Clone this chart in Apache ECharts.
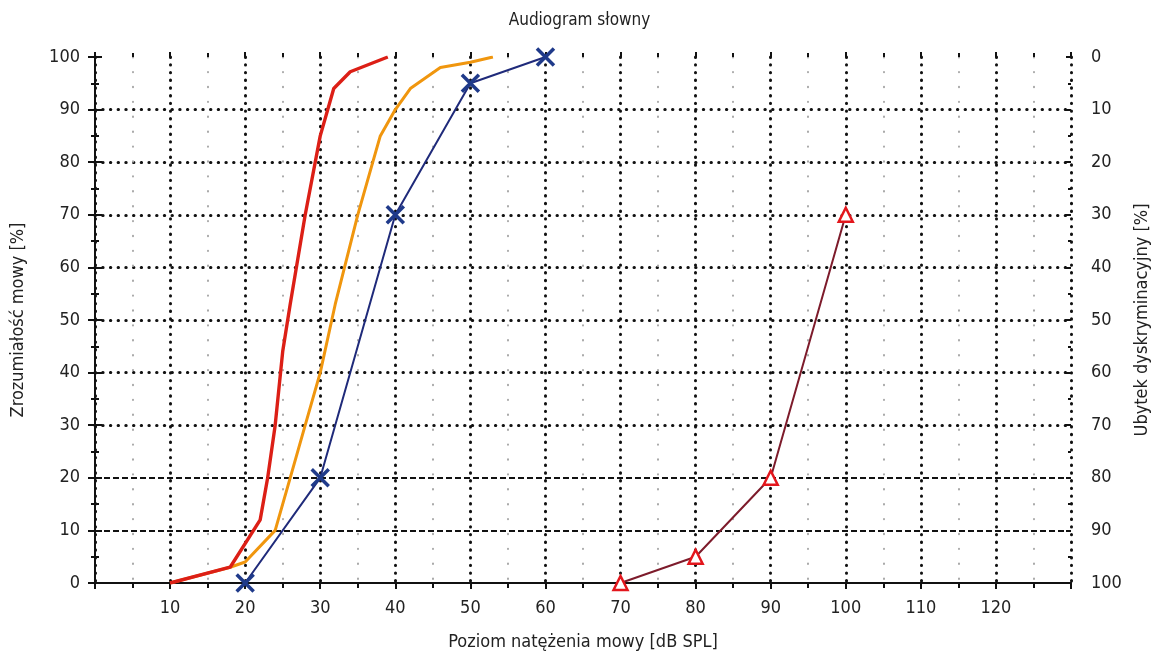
<!DOCTYPE html>
<html>
<head>
<meta charset="utf-8">
<title>Audiogram słowny</title>
<script src="https://cdn.jsdelivr.net/npm/echarts@6/dist/echarts.min.js"></script>
<style>
  html, body { margin: 0; padding: 0; background: #fff; }
  #chart { width: 1159px; height: 656px; }
</style>
</head>
<body>
<div id="chart"></div>
<script>
// curves: [dB SPL, %]
const redCurve = [[10, 0], [18, 3], [22, 12], [23, 20], [24, 30], [25, 44], [26, 53], [28, 70], [30, 85], [31.8, 94], [34, 97.2], [39, 100]];
const orangeCurve = [[10, 0], [18, 3], [20, 4], [24, 10], [26, 20], [28, 30], [30, 40], [32, 53], [35, 70], [37, 80], [38, 85], [40, 90], [42, 94], [46, 98], [50, 99], [53, 100]];
const blueCurve = [[20, 0], [30, 20], [40, 70], [50, 95], [60, 100]];
const maroonCurve = [[70, 0], [80, 5], [90, 20], [100, 70]];

const xMin = 0, xMax = 130, xStep = 10;
const yMin = 0, yMax = 100, yStep = 10;
// which horizontal grid lines are dotted / dashed
const dottedRows = [30, 40, 50, 60, 70, 80, 90];
const dashedRows = [10, 20];

const FONT = '"Liberation Sans Narrow", "DejaVu Sans Condensed", "Noto Sans", sans-serif';
const ink = '#111';

function rowColors(rows) {
  const out = [];
  for (let v = yMin; v <= yMax; v += yStep) out.push(rows.includes(v) ? ink : 'rgba(0,0,0,0)');
  return out;
}

const chart = echarts.init(document.getElementById('chart'));

const dotted = { color: ink, width: 3, type: [0.4, 7.3], cap: 'round' };
const label = { color: '#222', fontFamily: FONT, fontSize: 18 };

chart.setOption({
  animation: false,
  backgroundColor: '#fff',
  title: {
    text: 'Audiogram słowny',
    left: 'center',
    top: 7,
    textStyle: { color: '#222', fontFamily: FONT, fontSize: 17, fontWeight: 'normal' }
  },
  grid: { left: 95, right: 86, top: 57, bottom: 73 },
  xAxis: [
    {
      type: 'value', position: 'bottom', min: xMin, max: xMax, interval: xStep,
      name: 'Poziom natężenia mowy [dB SPL]', nameLocation: 'middle', nameGap: 50,
      nameTextStyle: label,
      axisLine: { lineStyle: { color: ink, width: 2 } },
      axisTick: { length: 6, lineStyle: { color: ink, width: 2 } },
      minorTick: { show: true, splitNumber: 2, length: 4, lineStyle: { color: ink, width: 2 } },
      axisLabel: Object.assign({ margin: 16, formatter: v => (v === xMin || v === xMax) ? '' : v }, label),
      splitLine: { show: true, lineStyle: dotted },
      minorSplitLine: { show: true, lineStyle: { color: '#a8a8a8', width: 2, type: [0.4, 14.5], cap: 'round' } }
    },
    {
      type: 'value', position: 'bottom', min: xMin, max: xMax, interval: xStep,
      axisLine: { show: false },
      axisTick: { inside: true, length: 5, lineStyle: { color: ink, width: 2 } },
      minorTick: { show: true, splitNumber: 2, length: 4, lineStyle: { color: ink, width: 2 } },
      axisLabel: { show: false },
      splitLine: { show: false }
    },
    {
      type: 'value', position: 'top', min: xMin, max: xMax, interval: 5,
      axisLine: { lineStyle: { color: ink, width: 2 } },
      axisTick: { inside: true, length: 5, lineStyle: { color: ink, width: 2 } },
      axisLabel: { show: false },
      splitLine: { show: false }
    }
  ],
  yAxis: [
    {
      type: 'value', position: 'left', min: yMin, max: yMax, interval: yStep,
      name: 'Zrozumiałość mowy [%]', nameLocation: 'middle', nameGap: 68,
      nameTextStyle: label,
      axisLine: { show: true, lineStyle: { color: ink, width: 2 } },
      axisTick: { show: true, length: 7, lineStyle: { color: ink, width: 2 } },
      minorTick: { show: true, splitNumber: 2, length: 4, lineStyle: { color: ink, width: 2 } },
      axisLabel: Object.assign({ margin: 15 }, label),
      splitLine: { show: true, lineStyle: Object.assign({}, dotted, { color: rowColors(dottedRows) }) }
    },
    {
      type: 'value', position: 'right', min: yMin, max: yMax, interval: yStep, inverse: true,
      name: 'Ubytek dyskryminacyjny [%]', nameLocation: 'middle', nameGap: 62, nameRotate: 90,
      nameTextStyle: label,
      axisLine: { show: true, lineStyle: { color: ink, width: 2 } },
      axisTick: { show: true, length: 7, lineStyle: { color: ink, width: 2 } },
      minorTick: { show: true, splitNumber: 2, length: 4, lineStyle: { color: ink, width: 2 } },
      axisLabel: Object.assign({ margin: 20 }, label),
      splitLine: { show: false }
    },
    {
      type: 'value', position: 'left', min: yMin, max: yMax, interval: yStep,
      axisLine: { show: false },
      axisTick: { show: true, inside: true, length: 5, lineStyle: { color: ink, width: 2 } },
      minorTick: { show: true, splitNumber: 2, length: 3, lineStyle: { color: ink, width: 2 } },
      axisLabel: { show: false },
      splitLine: { show: true, lineStyle: { color: rowColors(dashedRows), width: 2.2, type: [6, 3] } }
    },
    {
      type: 'value', position: 'right', min: yMin, max: yMax, interval: yStep,
      axisLine: { show: false },
      axisTick: { show: true, inside: true, length: 5, lineStyle: { color: ink, width: 2 } },
      minorTick: { show: true, splitNumber: 2, length: 3, lineStyle: { color: ink, width: 2 } },
      axisLabel: { show: false },
      splitLine: { show: false }
    }
  ],
  series: [
    {
      name: 'ubytek', type: 'line', data: maroonCurve,
      lineStyle: { color: '#7d1b2b', width: 2 },
      symbol: 'triangle', symbolSize: 14,
      itemStyle: { color: '#fff', borderColor: '#e3161c', borderWidth: 2.5 }
    },
    {
      name: 'pacjent', type: 'line', data: blueCurve,
      lineStyle: { color: '#1f2a7a', width: 2 },
      symbol: 'path://M0,0L10,10M10,0L0,10', symbolSize: 17,
      itemStyle: { color: '#1f3a8a', borderColor: '#1f3a8a', borderWidth: 3.5 }
    },
    {
      name: 'norma2', type: 'line', data: orangeCurve, showSymbol: false,
      lineStyle: { color: '#f0960e', width: 3 }
    },
    {
      name: 'norma1', type: 'line', data: redCurve, showSymbol: false,
      lineStyle: { color: '#dc1f16', width: 3.4 }
    }
  ]
});
</script>
</body>
</html>
